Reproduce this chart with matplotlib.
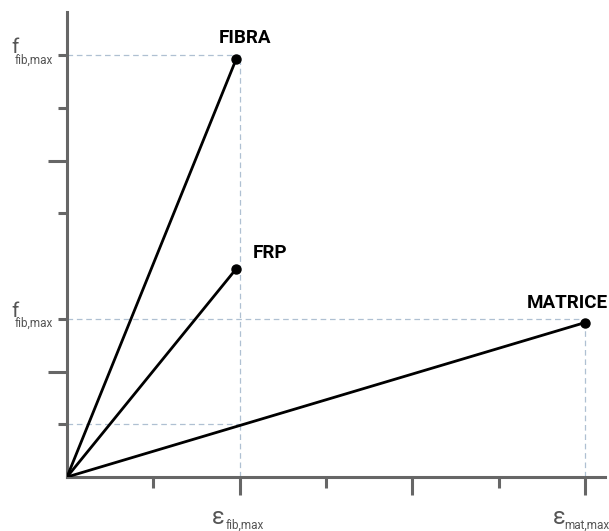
import matplotlib
matplotlib.use("Agg")
import matplotlib.pyplot as plt

plt.rcParams['font.family'] = ['Roboto', 'DejaVu Sans']

# data
materials = ['FIBRA', 'FRP', 'MATRICE']
strain = [1.96, 1.96, 6.0]
stress = [7.93, 3.95, 2.93]

# reference (dashed) levels
eps_fib, eps_mat = 2, 6
f_fib, f_mat, f_mat_at_fib = 8, 3, 1

x_major = [2, 4, 6]
x_minor = [1, 3, 5]
y_major = [2, 6]
y_minor = [1, 3, 5, 7, 8]

axis_col = '#666666'
lab_col = '#555555'
dash_col = '#afc0d2'

fig = plt.figure(figsize=(6.09, 5.31), dpi=100)
ax = fig.add_axes([67/609, 54/531, 538/609, 465/531])
ax.set_xlim(0, 6.23)
ax.set_ylim(0, 8.82)

# dashed guides
dash = dict(color=dash_col, lw=0.9, ls=(0, (4.5, 3)), zorder=1)
ax.plot([eps_fib, eps_fib], [0, f_fib], **dash)
ax.plot([0, eps_fib], [f_fib, f_fib], **dash)
ax.plot([0, eps_mat], [f_mat, f_mat], **dash)
ax.plot([eps_mat, eps_mat], [0, f_mat], **dash)
ax.plot([0, eps_fib], [f_mat_at_fib, f_mat_at_fib], **dash)

# material lines
for name, e, s in zip(materials, strain, stress):
    ax.plot([0, e], [0, s], color='black', lw=2.0, zorder=3, solid_capstyle='round')
    ax.plot(e, s, 'o', color='black', ms=6.5, zorder=4, clip_on=False)

offsets = {'FIBRA': (6, 11.5, 'center'), 'FRP': (12, 8, 'left'), 'MATRICE': (-13, 10.5, 'center')}
for name, e, s in zip(materials, strain, stress):
    dx, dy, ha = offsets[name]
    ax.annotate(name, (e, s), xytext=(dx, dy), textcoords='offset points',
                ha=ha, va='baseline', fontsize=13.5, fontweight='bold',
                color='black', annotation_clip=False)

# axes look
for side in ['top', 'right']:
    ax.spines[side].set_visible(False)
for side in ['left', 'bottom']:
    ax.spines[side].set_color(axis_col)
    ax.spines[side].set_linewidth(2.2)

ax.set_xticks(x_major)
ax.set_xticks(x_minor, minor=True)
ax.set_yticks(y_major)
ax.set_yticks(y_minor, minor=True)
ax.tick_params(axis='x', which='major', length=13, width=2.2, color=axis_col, labelbottom=False)
ax.tick_params(axis='x', which='minor', length=8, width=2.2, color=axis_col)
ax.tick_params(axis='y', which='major', length=13.5, width=2.2, color=axis_col, labelleft=False)
ax.tick_params(axis='y', which='minor', length=6.5, width=2.2, color=axis_col)

# y tick labels  f_fib,max
ytr = ax.get_yaxis_transform()
for yv in [f_fib, f_mat]:
    ax.annotate('f', (0, yv), xycoords=ytr, xytext=(-35, 1.5), textcoords='offset points',
                ha='right', va='baseline', fontsize=15, color=lab_col, annotation_clip=False)
    ax.annotate('fib,max', (0, yv), xycoords=ytr, xytext=(-10, -6), textcoords='offset points',
                ha='right', va='baseline', fontsize=8.5, color=lab_col, annotation_clip=False)

# x tick labels  eps
xtr = ax.get_xaxis_transform()
for xv, sub, ex, sx in [(eps_fib, 'fib,max', -11, -10), (eps_mat, 'mat,max', -14, -15)]:
    ax.annotate('\u03b5', (xv, 0), xycoords=xtr, xytext=(ex, -34), textcoords='offset points',
                ha='right', va='baseline', fontsize=17, color=lab_col, annotation_clip=False)
    ax.annotate(sub, (xv, 0), xycoords=xtr, xytext=(sx, -37.5), textcoords='offset points',
                ha='left', va='baseline', fontsize=8.5, color=lab_col, annotation_clip=False)

fig.savefig('out.png', dpi=100)
